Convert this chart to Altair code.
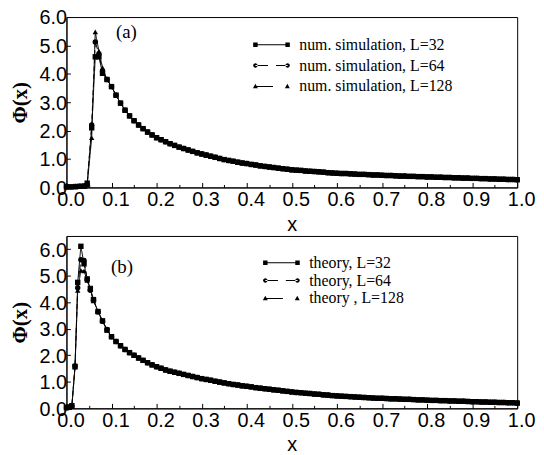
import altair as alt
import pandas as pd

# ---------------- panel (a): numerical simulation ----------------
top_head_x = [0.0, 0.01, 0.02, 0.03, 0.04, 0.046, 0.056, 0.064, 0.072, 0.08]
top_head_32 = [0.02, 0.02, 0.03, 0.04, 0.05, 0.15, 2.10, 4.60, 4.60, 4.02]
top_head_64 = [0.02, 0.02, 0.03, 0.04, 0.05, 0.10, 2.20, 5.12, 4.70, 4.10]
top_head_128 = [0.01, 0.02, 0.02, 0.03, 0.04, 0.08, 1.75, 5.48, 4.80, 4.22]

top_tail_x = [0.09, 0.10, 0.11, 0.12, 0.13, 0.14, 0.15, 0.16, 0.17, 0.18, 0.19,
              0.20, 0.21, 0.22, 0.23, 0.24, 0.25, 0.26, 0.27, 0.28, 0.29,
              0.30, 0.31, 0.32, 0.33, 0.34, 0.35, 0.36, 0.37, 0.38, 0.39,
              0.40, 0.41, 0.42, 0.43, 0.44, 0.45, 0.46, 0.47, 0.48, 0.49,
              0.50, 0.51, 0.52, 0.53, 0.54, 0.55, 0.56, 0.57, 0.58, 0.59,
              0.60, 0.61, 0.62, 0.63, 0.64, 0.65, 0.66, 0.67, 0.68, 0.69,
              0.70, 0.71, 0.72, 0.73, 0.74, 0.75, 0.76, 0.77, 0.78, 0.79,
              0.80, 0.81, 0.82, 0.83, 0.84, 0.85, 0.86, 0.87, 0.88, 0.89,
              0.90, 0.91, 0.92, 0.93, 0.94, 0.95, 0.96, 0.97, 0.98, 0.99, 1.00]
top_tail_y = [3.80, 3.55, 3.25, 2.97, 2.72, 2.52, 2.35, 2.20, 2.07, 1.95, 1.85,
              1.75, 1.68, 1.61, 1.54, 1.48, 1.42, 1.37, 1.32, 1.27, 1.22,
              1.18, 1.14, 1.10, 1.06, 1.02, 0.98, 0.95, 0.92, 0.89, 0.86,
              0.84, 0.81, 0.79, 0.76, 0.74, 0.72, 0.70, 0.68, 0.66, 0.64,
              0.62, 0.61, 0.60, 0.58, 0.57, 0.56, 0.55, 0.54, 0.52, 0.51,
              0.50, 0.49, 0.49, 0.48, 0.47, 0.46, 0.46, 0.45, 0.44, 0.44,
              0.43, 0.42, 0.42, 0.41, 0.40, 0.40, 0.39, 0.39, 0.38, 0.38,
              0.37, 0.37, 0.36, 0.36, 0.35, 0.35, 0.34, 0.34, 0.33, 0.33,
              0.32, 0.32, 0.31, 0.31, 0.30, 0.30, 0.29, 0.29, 0.28, 0.28, 0.27]

top_names = ["num. simulation, L=32", "num. simulation, L=64", "num. simulation, L=128"]

# ---------------- panel (b): theory ----------------
bot_head_x = [0.0, 0.006, 0.012, 0.019, 0.025, 0.032, 0.039, 0.046, 0.053, 0.06, 0.07, 0.08, 0.09]
bot_head_32 = [0.03, 0.05, 0.10, 1.58, 4.75, 6.11, 5.45, 4.88, 4.52, 4.10, 3.65, 3.30, 2.95]
bot_head_64 = [0.02, 0.04, 0.08, 1.60, 4.55, 5.60, 5.58, 4.85, 4.45, 4.08, 3.63, 3.28, 2.97]
bot_head_128 = [0.02, 0.03, 0.07, 1.55, 4.45, 5.20, 5.18, 4.82, 4.48, 4.05, 3.66, 3.31, 2.96]

bot_tail_x = [0.10, 0.11, 0.12, 0.13, 0.14, 0.15, 0.16, 0.17, 0.18, 0.19,
              0.20, 0.21, 0.22, 0.23, 0.24, 0.25, 0.26, 0.27, 0.28, 0.29,
              0.30, 0.31, 0.32, 0.33, 0.34, 0.35, 0.36, 0.37, 0.38, 0.39,
              0.40, 0.41, 0.42, 0.43, 0.44, 0.45, 0.46, 0.47, 0.48, 0.49,
              0.50, 0.51, 0.52, 0.53, 0.54, 0.55, 0.56, 0.57, 0.58, 0.59,
              0.60, 0.61, 0.62, 0.63, 0.64, 0.65, 0.66, 0.67, 0.68, 0.69,
              0.70, 0.71, 0.72, 0.73, 0.74, 0.75, 0.76, 0.77, 0.78, 0.79,
              0.80, 0.81, 0.82, 0.83, 0.84, 0.85, 0.86, 0.87, 0.88, 0.89,
              0.90, 0.91, 0.92, 0.93, 0.94, 0.95, 0.96, 0.97, 0.98, 0.99, 1.00]
bot_tail_y = [2.70, 2.52, 2.36, 2.22, 2.10, 2.00, 1.90, 1.81, 1.72, 1.64,
              1.57, 1.51, 1.45, 1.40, 1.36, 1.32, 1.28, 1.24, 1.20, 1.16,
              1.12, 1.09, 1.06, 1.02, 0.99, 0.96, 0.93, 0.90, 0.88, 0.85,
              0.83, 0.81, 0.78, 0.76, 0.74, 0.72, 0.70, 0.68, 0.66, 0.64,
              0.62, 0.60, 0.59, 0.57, 0.56, 0.54, 0.53, 0.51, 0.50, 0.48,
              0.47, 0.46, 0.45, 0.44, 0.43, 0.42, 0.41, 0.40, 0.39, 0.38,
              0.38, 0.37, 0.36, 0.36, 0.35, 0.34, 0.34, 0.33, 0.32, 0.32,
              0.31, 0.30, 0.30, 0.29, 0.29, 0.28, 0.28, 0.27, 0.27, 0.26,
              0.25, 0.25, 0.24, 0.24, 0.23, 0.23, 0.22, 0.22, 0.21, 0.21, 0.20]

bot_names = ["theory, L=32", "theory, L=64", "theory , L=128"]

x_ticks = [0.0, 0.05, 0.1, 0.15, 0.2, 0.25, 0.3, 0.35, 0.4, 0.45, 0.5,
           0.55, 0.6, 0.65, 0.7, 0.75, 0.8, 0.85, 0.9, 0.95, 1.0]
y_ticks = [0, 1, 2, 3, 4, 5, 6]

# legend glyphs: line + marker pairs (path units of 5 px, symbolSize 100)
SQ = ("M-3.7,-0.45L-2.8,-0.45L-2.8,0.45L-3.7,0.45Z "
      "M-3.25,-0.1L3.25,-0.1L3.25,0.1L-3.25,0.1Z "
      "M2.8,-0.45L3.7,-0.45L3.7,0.45L2.8,0.45Z")
CI = ("M-2.8,0A0.45,0.45 0 1,0 -3.7,0A0.45,0.45 0 1,0 -2.8,0Z "
      "M-3.25,-0.1L-0.7,-0.1L-0.7,0.1L-3.25,0.1Z "
      "M0.9,-0.1L3.25,-0.1L3.25,0.1L0.9,0.1Z "
      "M3.7,0A0.45,0.45 0 1,0 2.8,0A0.45,0.45 0 1,0 3.7,0Z")
TR = ("M-3.25,-0.55L-2.75,0.4L-3.75,0.4Z "
      "M-3.25,-0.1L0.3,-0.1L0.3,0.1L-3.25,0.1Z "
      "M3.2,-0.55L3.7,0.4L2.7,0.4Z")

MAJOR_TEST = "round(datum.value*100) % 10 == 0"


def build(df_long, names, ymax, label, legend_x, legend_y, row_pad, height, label_dx, label_dy):
    xs = alt.X("x:Q", scale=alt.Scale(domain=[0, 1]),
               axis=alt.Axis(values=x_ticks,
                             tickSize={"condition": {"test": MAJOR_TEST, "value": -5}, "value": -3},
                             labelExpr=MAJOR_TEST + " ? format(datum.value, '.1f') : ''",
                             labelFlush=False, labelPadding=7, labelOffset=4,
                             title="x", titlePadding=5))
    ys = alt.Y("y:Q", scale=alt.Scale(domain=[0, ymax]),
               axis=alt.Axis(values=y_ticks, format=".1f", tickSize={"expr": "-4"},
                             labelFlush=False, labelOffset=1, title="Φ(x)",
                             labelPadding=4, titlePadding=9))
    base = alt.Chart(df_long)
    lines = base.mark_line(color="black", strokeWidth=1).encode(
        x=xs, y=ys,
        strokeDash=alt.StrokeDash("series:N", scale=alt.Scale(domain=names, range=[[1, 0], [5, 3], [1, 0]]),
                                  legend=None),
        detail="series:N",
    )
    pts = base.mark_point(filled=True, color="black", size=30, opacity=1).encode(
        x=xs, y=ys,
        shape=alt.Shape("series:N", scale=alt.Scale(domain=names, range=["square", "circle", "triangle-up"]),
                        legend=None),
    )
    leg = base.transform_filter("datum.x < -1").mark_point(
        filled=True, color="black", opacity=1
    ).encode(
        x=xs, y=ys,
        shape=alt.Shape("series:N", scale=alt.Scale(domain=names, range=[SQ, CI, TR]),
                        legend=alt.Legend(title=None, orient="none", legendX=legend_x, legendY=legend_y,
                                          symbolSize=100, labelFont="Liberation Serif",
                                          labelFontSize=16, labelColor="black", labelOffset=20,
                                          rowPadding=row_pad, symbolOpacity=1,
                                          symbolFillColor="black")),
    )
    return alt.layer(lines, pts, leg).resolve_scale(shape="independent").properties(
        width=455, height=height,
        title=alt.TitleParams(text=label, anchor="start", frame="group", dx=label_dx, dy=label_dy,
                              font="Liberation Serif", fontSize=19, fontWeight="normal",
                              color="black", offset=0),
    )


def long_df(head_x, heads, tail_x, tail_y, names):
    rows = []
    for name, head in zip(names, heads):
        for xv, yv in zip(head_x + tail_x, head + tail_y):
            rows.append({"x": xv, "y": yv, "series": name})
    return pd.DataFrame(rows)


df_top = long_df(top_head_x, [top_head_32, top_head_64, top_head_128], top_tail_x, top_tail_y, top_names)
df_bot = long_df(bot_head_x, [bot_head_32, bot_head_64, bot_head_128], bot_tail_x, bot_tail_y, bot_names)

top = build(df_top, top_names, 6.0, "(a)", 199, 20, 5, 172, 50, 34)
bot = build(df_bot, bot_names, 6.5, "(b)", 209, 19, 2, 174, 45, 41)

chart = alt.vconcat(top, bot, spacing=0).properties(
    background="white", padding={"left": 0, "top": -3, "right": 0, "bottom": 0}
).configure_view(
    stroke="black", strokeWidth=1
).configure_axis(
    grid=False, domainColor="black", tickColor="black", labelColor="black",
    labelFont="Liberation Sans", labelFontSize=20, titleColor="black",
    titleFont="Liberation Sans", titleFontSize=20, titleFontWeight="normal",
).configure_axisY(
    titleFont="Liberation Serif", titleFontWeight="bold", titleFontSize=21
)

chart.save("out.html", embed_options={"renderer": "svg", "actions": False})
